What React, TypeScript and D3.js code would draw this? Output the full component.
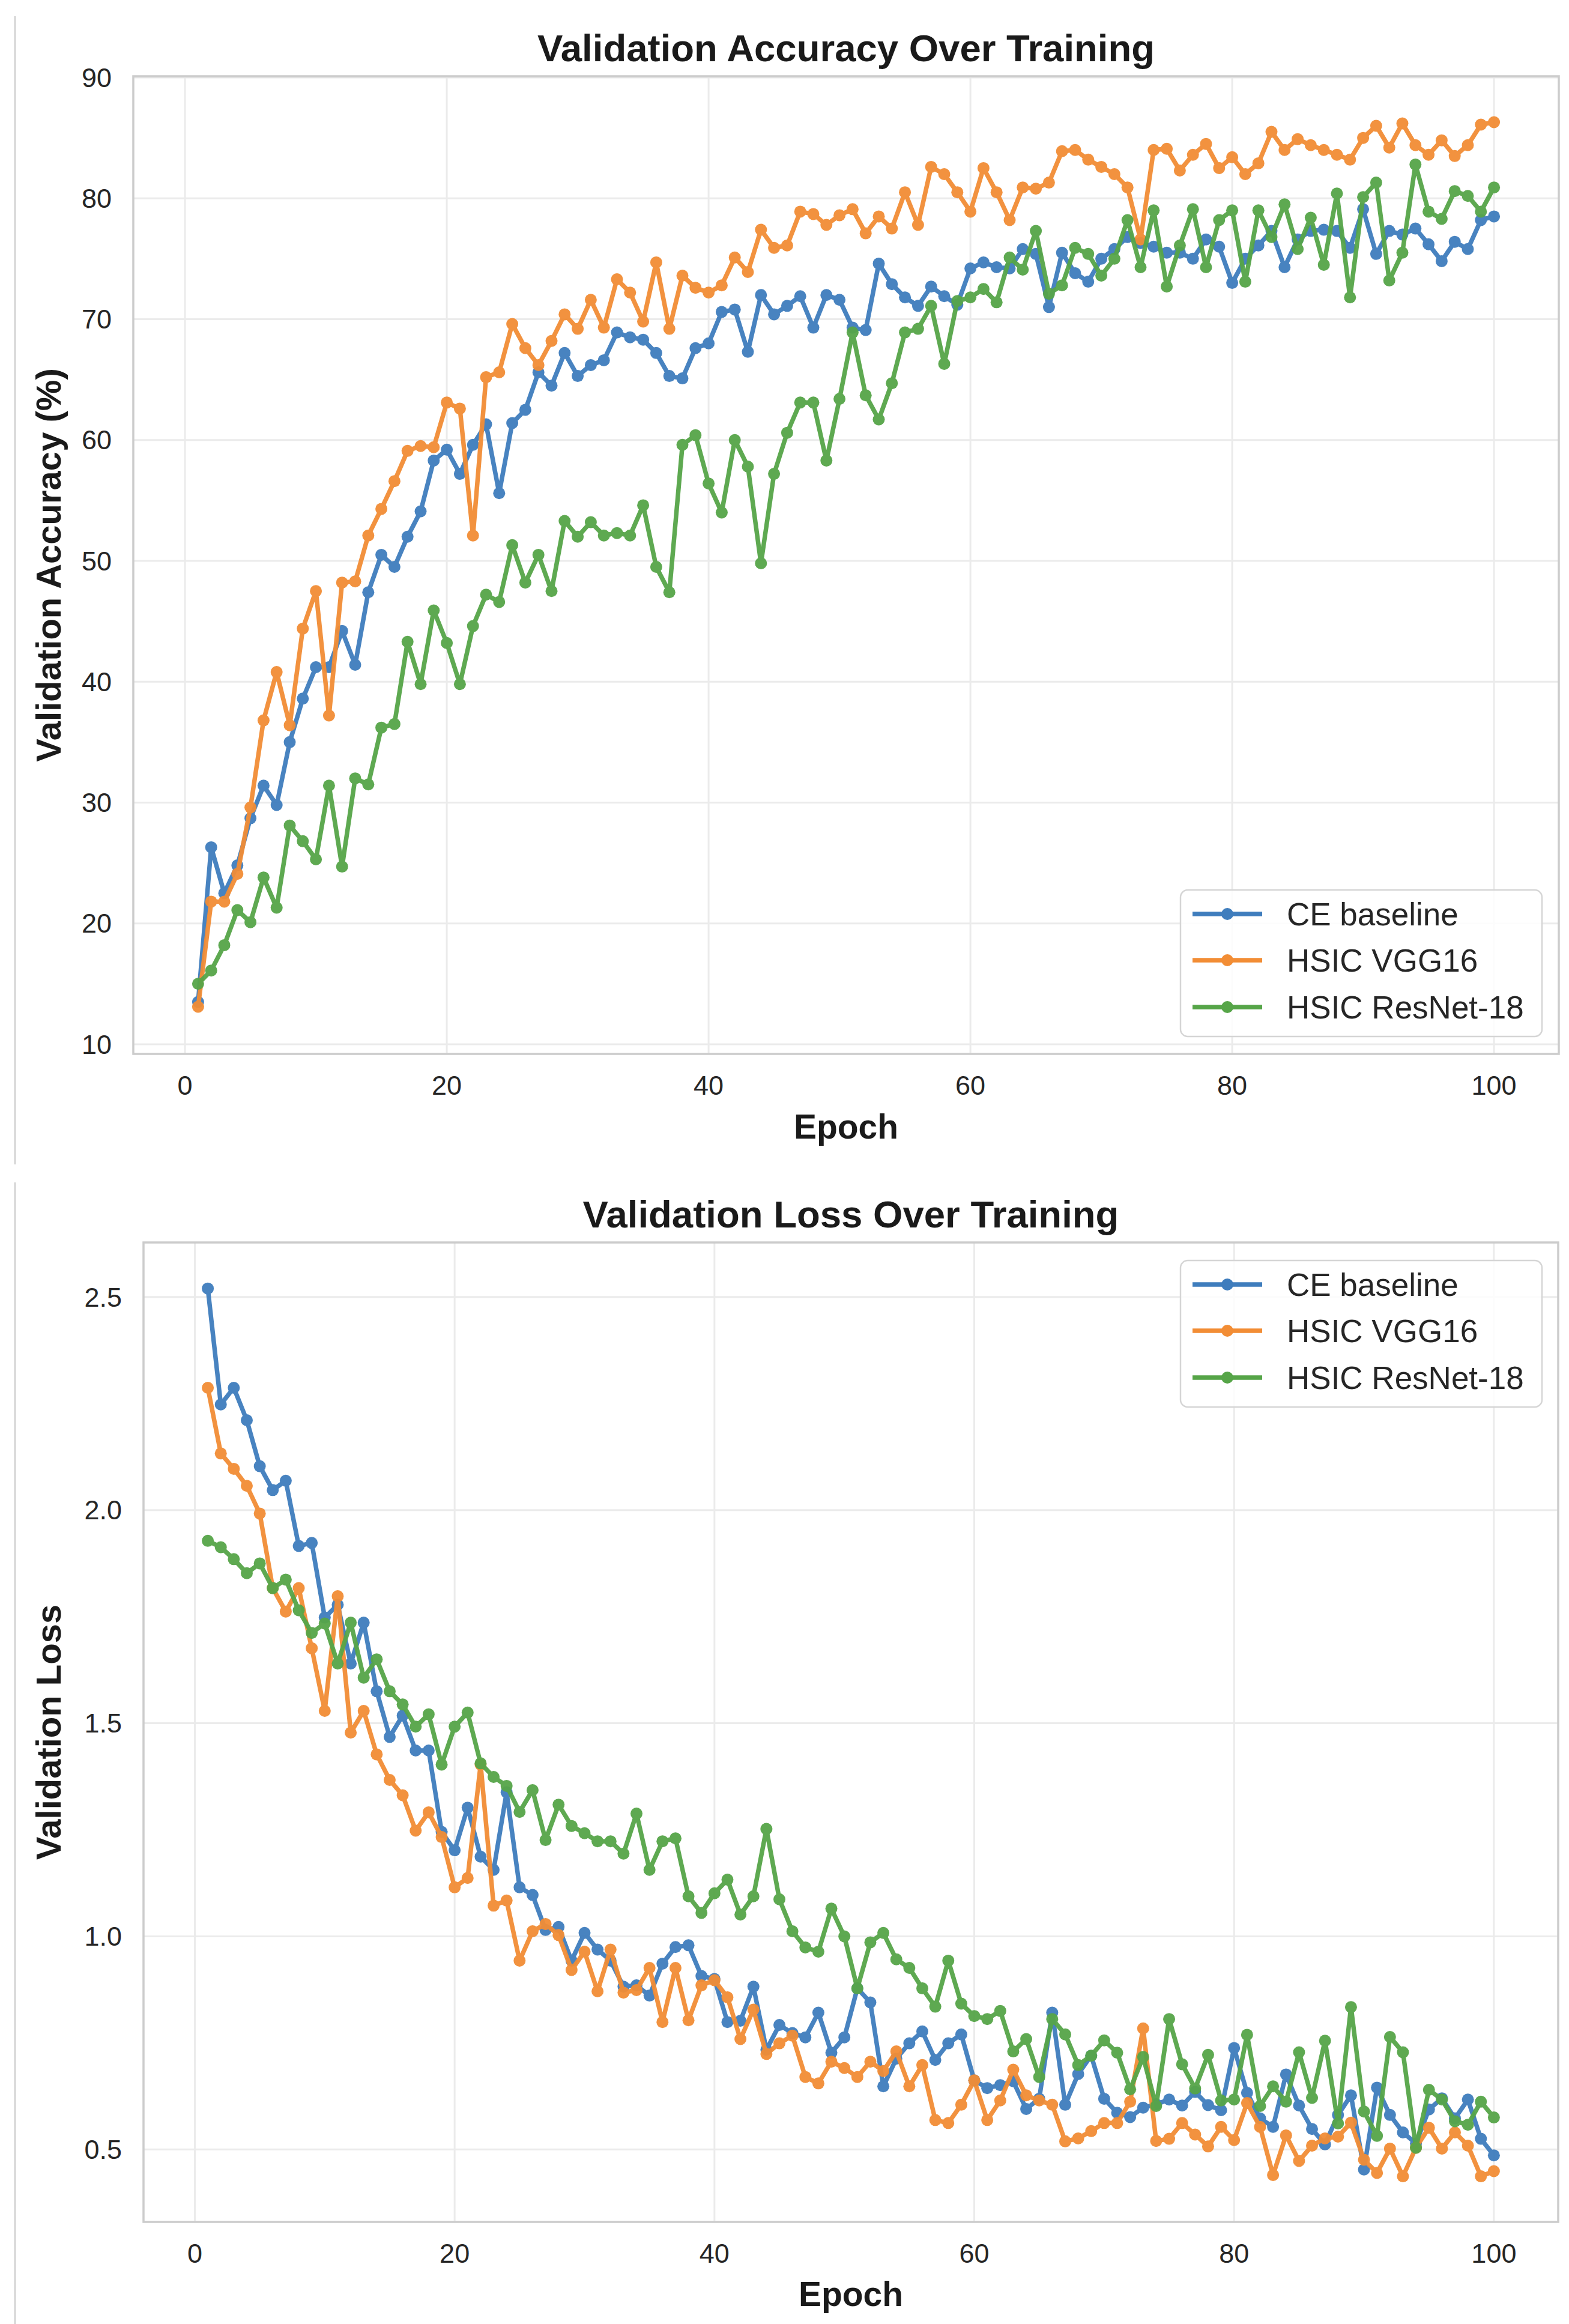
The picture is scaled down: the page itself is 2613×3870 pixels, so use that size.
import * as d3 from 'd3';

// epochs 1..100
const epochs = d3.range(1, 101);

const seriesNames = ['CE baseline', 'HSIC VGG16', 'HSIC ResNet-18'];
const seriesColors = ['#3f7dbd', '#f28d35', '#56a548'];

const accCE = [
  13.5, 26.3, 22.5, 24.8, 28.7, 31.4, 29.8, 35.0, 38.6, 41.2,
  41.2, 44.2, 41.4, 47.4, 50.5, 49.5, 52.0, 54.1, 58.3, 59.2,
  57.2, 59.6, 61.3, 55.6, 61.4, 62.5, 65.6, 64.5, 67.2, 65.3,
  66.2, 66.6, 68.9, 68.5, 68.3, 67.2, 65.3, 65.1, 67.6, 68.0,
  70.6, 70.8, 67.3, 72.0, 70.4, 71.1, 71.9, 69.3, 72.0, 71.6,
  69.3, 69.1, 74.6, 72.9, 71.8, 71.1, 72.7, 71.9, 71.2, 74.2,
  74.7, 74.3, 74.2, 75.8, 75.4, 71.0, 75.5, 73.8, 73.1, 75.0,
  75.8, 76.8, 76.3, 76.0, 75.5, 75.5, 75.0, 76.6, 76.0, 73.0,
  75.0, 76.1, 77.3, 74.3, 76.6, 77.3, 77.4, 77.3, 75.9, 79.1,
  75.4, 77.3, 77.0, 77.5, 76.2, 74.8, 76.4, 75.8, 78.2, 78.5,
];
const accVGG = [
  13.1, 21.8, 21.8, 24.1, 29.6, 36.8, 40.8, 36.4, 44.4, 47.5,
  37.2, 48.2, 48.3, 52.1, 54.3, 56.6, 59.1, 59.5, 59.4, 63.1,
  62.6, 52.1, 65.2, 65.6, 69.6, 67.6, 66.2, 68.2, 70.4, 69.2,
  71.6, 69.3, 73.3, 72.2, 69.8, 74.7, 69.2, 73.6, 72.6, 72.2,
  72.8, 75.1, 73.9, 77.4, 75.9, 76.1, 78.9, 78.7, 77.8, 78.6,
  79.1, 77.1, 78.5, 77.5, 80.5, 77.8, 82.6, 82.0, 80.5, 78.9,
  82.5, 80.5, 78.2, 80.9, 80.8, 81.3, 83.9, 84.0, 83.2, 82.6,
  82.0, 80.9, 76.6, 84.0, 84.1, 82.3, 83.6, 84.5, 82.5, 83.4,
  82.0, 82.9, 85.5, 84.0, 84.9, 84.4, 84.0, 83.6, 83.2, 85.0,
  86.0, 84.2, 86.2, 84.4, 83.6, 84.8, 83.5, 84.4, 86.1, 86.3,
];
const accResNet = [
  15.0, 16.1, 18.2, 21.1, 20.1, 23.8, 21.3, 28.1, 26.8, 25.3,
  31.4, 24.7, 32.0, 31.5, 36.2, 36.5, 43.3, 39.8, 45.9, 43.2,
  39.8, 44.6, 47.2, 46.6, 51.3, 48.2, 50.5, 47.5, 53.3, 52.0,
  53.2, 52.1, 52.3, 52.1, 54.6, 49.5, 47.4, 59.6, 60.4, 56.4,
  54.0, 60.0, 57.8, 49.8, 57.2, 60.6, 63.1, 63.1, 58.3, 63.4,
  68.9, 63.7, 61.7, 64.7, 68.9, 69.2, 71.1, 66.3, 71.5, 71.8,
  72.5, 71.4, 75.1, 74.1, 77.3, 72.1, 72.8, 75.9, 75.4, 73.6,
  75.0, 78.2, 74.3, 79.0, 72.7, 76.1, 79.1, 74.3, 78.2, 79.0,
  73.1, 79.0, 76.8, 79.5, 75.8, 78.4, 74.5, 80.4, 71.8, 80.1,
  81.3, 73.2, 75.5, 82.8, 78.9, 78.3, 80.6, 80.2, 78.9, 80.9,
];

const lossCE = [
  2.52, 2.248, 2.287, 2.211, 2.103, 2.047, 2.069, 1.916, 1.923, 1.748,
  1.778, 1.64, 1.736, 1.575, 1.468, 1.518, 1.436, 1.436, 1.245, 1.202,
  1.302, 1.187, 1.156, 1.338, 1.115, 1.097, 1.015, 1.022, 0.943, 1.008,
  0.969, 0.943, 0.882, 0.885, 0.861, 0.936, 0.975, 0.979, 0.907, 0.9,
  0.799, 0.802, 0.882, 0.734, 0.792, 0.773, 0.763, 0.821, 0.727, 0.763,
  0.878, 0.845, 0.648, 0.713, 0.749, 0.777, 0.71, 0.749, 0.77, 0.662,
  0.644, 0.651, 0.66, 0.595, 0.619, 0.821, 0.605, 0.677, 0.72, 0.619,
  0.586, 0.576, 0.598, 0.606, 0.617, 0.603, 0.635, 0.604, 0.592, 0.738,
  0.633, 0.573, 0.553, 0.676, 0.603, 0.548, 0.512, 0.581, 0.627, 0.453,
  0.645, 0.581, 0.54, 0.514, 0.594, 0.62, 0.573, 0.617, 0.525, 0.486,
];
const lossVGG = [
  2.287, 2.133, 2.097, 2.057, 1.992, 1.817, 1.762, 1.817, 1.676, 1.529,
  1.798, 1.478, 1.529, 1.427, 1.367, 1.331, 1.248, 1.291, 1.233, 1.115,
  1.137, 1.403, 1.072, 1.084, 0.943, 1.012, 1.029, 1.003, 0.921, 0.964,
  0.871, 0.969, 0.868, 0.874, 0.926, 0.799, 0.926, 0.803, 0.885, 0.897,
  0.857, 0.759, 0.828, 0.724, 0.749, 0.767, 0.67, 0.655, 0.706, 0.691,
  0.67, 0.706, 0.684, 0.73, 0.648, 0.698, 0.569, 0.562, 0.605, 0.662,
  0.569, 0.615, 0.687, 0.627, 0.615, 0.605, 0.519, 0.526, 0.543, 0.562,
  0.562, 0.612, 0.784, 0.52, 0.525, 0.562, 0.535, 0.507, 0.553, 0.522,
  0.609, 0.553, 0.44, 0.533, 0.473, 0.509, 0.526, 0.53, 0.563, 0.476,
  0.445, 0.502, 0.437, 0.504, 0.551, 0.502, 0.54, 0.509, 0.437, 0.449,
];
const lossResNet = [
  1.928, 1.913, 1.885, 1.852, 1.875, 1.817, 1.837, 1.765, 1.712, 1.734,
  1.64, 1.736, 1.607, 1.65, 1.575, 1.544, 1.492, 1.521, 1.403, 1.492,
  1.525, 1.406, 1.374, 1.353, 1.292, 1.343, 1.226, 1.309, 1.259, 1.242,
  1.223, 1.223, 1.194, 1.288, 1.156, 1.223, 1.23, 1.094, 1.055, 1.101,
  1.133, 1.051, 1.094, 1.252, 1.087, 1.012, 0.974, 0.964, 1.065, 1.0,
  0.878, 0.986, 1.008, 0.946, 0.926, 0.878, 0.835, 0.943, 0.842, 0.813,
  0.806, 0.825, 0.73, 0.759, 0.67, 0.806, 0.77, 0.698, 0.72, 0.756,
  0.727, 0.641, 0.717, 0.602, 0.806, 0.7, 0.643, 0.722, 0.615, 0.617,
  0.769, 0.602, 0.648, 0.612, 0.728, 0.621, 0.755, 0.561, 0.834, 0.589,
  0.532, 0.764, 0.728, 0.504, 0.64, 0.617, 0.566, 0.558, 0.612, 0.575,
];

const epochTicks = [0, 20, 40, 60, 80, 100];
const accTicks = [10, 20, 30, 40, 50, 60, 70, 80, 90];
const lossTicks = [0.5, 1.0, 1.5, 2.0, 2.5];

const FONT = '"Liberation Sans", Arial, Helvetica, sans-serif';
const TEXT = '#262626';

type Frame = { left: number; right: number; top: number; bottom: number };

function Panel(props: {
  frame: Frame;
  yDomain: [number, number];
  yTicks: number[];
  fmt: (v: number) => string;
  data: number[][];
  title: string;
  yLabel: string;
  xLabelY: number;
  legendTop: number;
}) {
  const { frame, yDomain, yTicks, fmt, data, title, yLabel, xLabelY, legendTop } = props;
  const x = d3.scaleLinear().domain([-3.95, 104.95]).range([frame.left, frame.right]);
  const y = d3.scaleLinear().domain(yDomain).range([frame.bottom, frame.top]);
  const line = d3
    .line<number>()
    .x((_, i) => x(epochs[i]))
    .y((d) => y(d));
  const cx = (frame.left + frame.right) / 2;
  const cy = (frame.top + frame.bottom) / 2;

  const legLeft = 1966;
  const legW = 602;
  const legH = 244;
  const rowY = [40, 117, 195];

  return (
    <g>
      {/* grid */}
      {yTicks.map((t) => (
        <line key={'gy' + t} x1={frame.left} x2={frame.right} y1={y(t)} y2={y(t)} stroke="#ebebeb" strokeWidth={3} />
      ))}
      {epochTicks.map((t) => (
        <line key={'gx' + t} x1={x(t)} x2={x(t)} y1={frame.top} y2={frame.bottom} stroke="#ebebeb" strokeWidth={3} />
      ))}
      {/* spines */}
      <rect
        x={frame.left}
        y={frame.top}
        width={frame.right - frame.left}
        height={frame.bottom - frame.top}
        fill="none"
        stroke="#cccccc"
        strokeWidth={3.5}
      />
      {/* series */}
      {data.map((vals, s) => (
        <g key={s} opacity={0.95}>
          <path d={line(vals) ?? ''} fill="none" stroke={seriesColors[s]} strokeWidth={7.5} strokeLinejoin="round" />
          {vals.map((v, i) => (
            <circle key={i} cx={x(epochs[i])} cy={y(v)} r={10} fill={seriesColors[s]} />
          ))}
        </g>
      ))}
      {/* tick labels */}
      {yTicks.map((t) => (
        <text key={'ty' + t} x={frame.left - 36} y={y(t)} dy="0.35em" textAnchor="end" fontSize={45} fill={TEXT} fontFamily={FONT}>
          {fmt(t)}
        </text>
      ))}
      {epochTicks.map((t) => (
        <text key={'tx' + t} x={x(t)} y={frame.bottom + 68} textAnchor="middle" fontSize={45} fill={TEXT} fontFamily={FONT}>
          {t}
        </text>
      ))}
      {/* title + labels */}
      <text x={cx} y={frame.top - 25} textAnchor="middle" fontSize={63.5} fontWeight="bold" fill="#1a1a1a" fontFamily={FONT}>
        {title}
      </text>
      <text x={cx} y={xLabelY} textAnchor="middle" fontSize={57} fontWeight="bold" fill="#1a1a1a" fontFamily={FONT}>
        Epoch
      </text>
      <text
        transform={`translate(81,${cy}) rotate(-90)`}
        textAnchor="middle"
        dy="0.35em"
        fontSize={58}
        fontWeight="bold"
        fill="#1a1a1a"
        fontFamily={FONT}
      >
        {yLabel}
      </text>
      {/* legend */}
      <g>
        <rect x={legLeft} y={legendTop} width={legW} height={legH} rx={12} fill="#ffffff" fillOpacity={0.85} stroke="#d5d5d5" strokeWidth={2.5} />
        {seriesNames.map((n, s) => (
          <g key={n}>
            <line x1={1986} x2={2102} y1={legendTop + rowY[s]} y2={legendTop + rowY[s]} stroke={seriesColors[s]} strokeWidth={7.5} />
            <circle cx={2044} cy={legendTop + rowY[s]} r={10} fill={seriesColors[s]} />
            <text x={2143} y={legendTop + rowY[s]} dy="0.35em" fontSize={53} fill={TEXT} fontFamily={FONT}>
              {n}
            </text>
          </g>
        ))}
      </g>
    </g>
  );
}

export default function App() {
  return (
    <svg
      width={2613}
      height={3870}
      viewBox="0 0 2613 3870"
      style={{ position: 'absolute', left: 0, top: 0, background: '#ffffff' }}
    >
      <rect x={0} y={0} width={2613} height={3870} fill="#ffffff" />
      <line x1={25} x2={25} y1={27} y2={1939} stroke="#d4d4d4" strokeWidth={3} />
      <line x1={25} x2={25} y1={1969} y2={3870} stroke="#d4d4d4" strokeWidth={3} />
      <Panel
        frame={{ left: 222, right: 2596, top: 127, bottom: 1755 }}
        yDomain={[9.2, 90.1]}
        yTicks={accTicks}
        fmt={(v) => String(v)}
        data={[accCE, accVGG, accResNet]}
        title="Validation Accuracy Over Training"
        yLabel="Validation Accuracy (%)"
        xLabelY={1896}
        legendTop={1482}
      />
      <Panel
        frame={{ left: 239, right: 2595, top: 2069, bottom: 3700 }}
        yDomain={[0.33, 2.628]}
        yTicks={lossTicks}
        fmt={(v) => v.toFixed(1)}
        data={[lossCE, lossVGG, lossResNet]}
        title="Validation Loss Over Training"
        yLabel="Validation Loss"
        xLabelY={3840}
        legendTop={2099}
      />
    </svg>
  );
}
